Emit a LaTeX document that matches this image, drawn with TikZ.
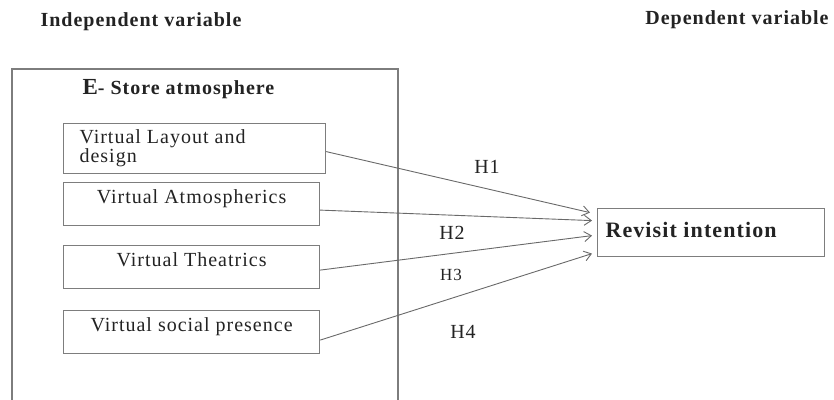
\documentclass[tikz,border=0pt]{standalone}
\usepackage{fontspec}
\setmainfont{Liberation Serif}[LetterSpace=5.0]
\definecolor{boxline}{RGB}{125, 125, 125}
\definecolor{arrowline}{RGB}{105, 105, 105}
\definecolor{ink}{RGB}{35, 35, 35}
\usetikzlibrary{arrows.meta,positioning}
\tikzset{
	every node/.style={font=\fontsize{20}{23}\selectfont,text=ink},
	hyp/.style={-{Straight Barb[length=7pt,width=10pt]},draw=arrowline,line width=0.9pt},
}

\begin{document}
\begin{tikzpicture}[x=1pt,y=-1pt,
		varbox/.style={draw=boxline,line width=1.2pt,anchor=north west,
			minimum width=256pt,minimum height=43pt,inner sep=0pt},
		heading/.style={font=\fontsize{20}{23}\selectfont\bfseries}]
	\useasboundingbox (0,0) rectangle (834,399);
	% titles
	\node[heading] (indep) at (141,22) {Independent variable};
	\node[heading] (dep) at (737,20) {Dependent variable};
	% outer box
	\node[draw=boxline,line width=2pt,anchor=north west,minimum width=386pt,
		minimum height=345pt,inner sep=0pt,
		label={[anchor=north west,xshift=68pt,yshift=-8pt,font=\fontsize{20}{23}\selectfont\bfseries]north west:{\fontsize{23}{23}\selectfont E}- Store atmosphere}]
		(store) at (11,68) {};
	% dimensions
	\node[varbox,minimum width=262pt,minimum height=50pt,
		label={[anchor=north west,xshift=13pt,yshift=-3pt,align=left,font=\fontsize{20}{18}\selectfont]north west:Virtual Layout and\\design}]
		(layout) at (63,123) {};
	\node[varbox,label={[anchor=north,yshift=-4pt]north:Virtual Atmospherics}]
		(atmo) at (63,182) {};
	\node[varbox,label={[anchor=north,yshift=-4pt]north:Virtual Theatrics}]
		(theatre) at (63,245) {};
	\node[varbox,label={[anchor=north,yshift=-4pt]north:Virtual social presence}]
		(social) at (63,310) {};
	\node[draw=boxline,line width=1.2pt,anchor=north west,minimum width=227pt,
		minimum height=48pt,inner sep=0pt] (revisit) at (597,208) {};
	\node[anchor=west,font=\fontsize{22}{24}\selectfont\bfseries] (revisittxt)
		at ([xshift=5pt,yshift=3pt]revisit.west) {Revisit intention};
	% hypotheses
	\draw[hyp] ([yshift=-3pt]layout.east) -- ([xshift=-7pt,yshift=20pt]revisit.west);
	\draw[hyp] ([yshift=-6pt]atmo.east) -- ([xshift=-5pt,yshift=12pt]revisit.west);
	\draw[hyp] ([yshift=-3pt]theatre.east) -- ([xshift=-5pt,yshift=-3pt]revisit.west);
	\draw[hyp] ([yshift=-8pt]social.east) -- ([xshift=-5pt,yshift=-21pt]revisit.west);
	\node (h1) at (487,167) {H1};
	\node (h2) at (452,233) {H2};
	\node[font=\fontsize{17}{20}\selectfont] (h3) at (451,275) {H3};
	\node (h4) at (463,332) {H4};
\end{tikzpicture}
\end{document}
